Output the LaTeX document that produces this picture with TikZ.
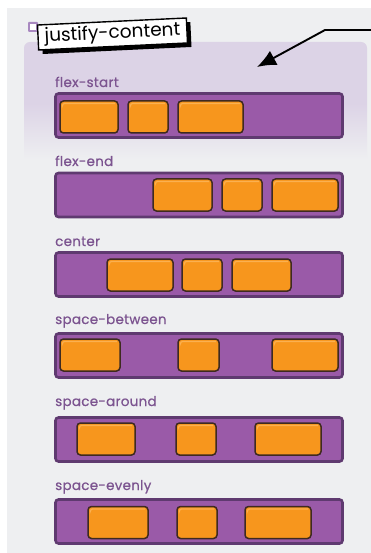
\documentclass[tikz,border=0pt]{standalone}
\usepackage{fontspec}
\setmainfont{Poppins}
\newfontfamily\labfont[LetterSpace=2,FakeBold=0.6]{Poppins}
\newfontfamily\titfont{Poppins}
\usetikzlibrary{arrows.meta}
\definecolor{bggray}{HTML}{EEEFF1}
\definecolor{lav}{HTML}{DCD3E6}
\definecolor{barpurple}{HTML}{9A5AA8}
\definecolor{bardark}{HTML}{5F3A70}
\definecolor{boxorange}{HTML}{F7961D}
\definecolor{boxlight}{HTML}{FBB050}
\definecolor{boxdark}{HTML}{3E2A20}
\definecolor{labpurple}{HTML}{7C5490}
\definecolor{sqpurple}{HTML}{A888C0}
\pgfdeclareverticalshading{panelshade}{100bp}{color(0bp)=(bggray); color(63.5bp)=(bggray); color(69bp)=(lav); color(100bp)=(lav)}
\tikzset{
  barbox/.style={fill=barpurple, draw=bardark, line width=2.6pt, rounded corners=3pt, inner sep=0pt, minimum height=44pt},
  obox/.style={fill=boxorange, draw=boxdark, line width=1.5pt, rounded corners=3.5pt, inner sep=0pt, minimum height=32pt,
    path picture={\draw[boxlight, line width=1.2pt, rounded corners=2pt]
      ([xshift=2.5pt,yshift=-4pt]path picture bounding box.north west) -- ([xshift=2.5pt,yshift=-2.5pt]path picture bounding box.north west) -- ([xshift=-3pt,yshift=-2.5pt]path picture bounding box.north east);}},
  rowlabel/.style={anchor=base west, inner sep=0pt, text=labpurple, font=\labfont\fontsize{13.5}{15}\selectfont},
  pointer/.style={line width=1.9pt, -{Latex[length=19pt,width=16pt]}}
}
\begin{document}
\begin{tikzpicture}[x=1pt,y=-1pt]
\useasboundingbox (0,0) rectangle (371,553);
\fill[white] (0,0) rectangle (371,553);
\fill[bggray] (7,8) rectangle (371,553);
\shade[shading=panelshade, rounded corners=6pt] (24,42) rectangle (367,553);

% title tag
\node[fill=sqpurple, minimum size=10pt, inner sep=0pt, rounded corners=1pt] (sqo) at (33,27) {};
\node[fill=white, minimum size=6.5pt, inner sep=0pt] (sqi) at (33,27) {};
\node[rotate=2.7, fill=black, minimum width=149pt, minimum height=25pt, inner sep=0pt] (tagshadow) at (116.5,38) {};
\node[rotate=2.7, fill=white, draw=black, line width=1.4pt, minimum width=149pt, minimum height=25pt, inner sep=0pt,
  font=\titfont\fontsize{18.5}{20}\selectfont] (tag) at (112.5,34) {justify-content};

% arrow
\coordinate (arrstart) at (371,30);
\coordinate (arrbend) at (325,30);
\coordinate (arrtip) at (257,67);
\draw[pointer] (arrstart) -- (arrbend) -- (arrtip);

% row 1 flex-start
\node[rowlabel] (l1) at (55,87) {flex-start};
\node[barbox, minimum width=287pt] (bar1) at (199,115.5) {};
\node[obox, minimum width=58pt] (r1a) at (89,117) {};
\node[obox, minimum width=40pt] (r1b) at (148,117) {};
\node[obox, minimum width=65pt] (r1c) at (210.5,117) {};

% row 2 flex-end
\node[rowlabel] (l2) at (55,166) {flex-end};
\node[barbox, minimum width=287pt] (bar2) at (199,195) {};
\node[obox, minimum width=59pt] (r2a) at (182.5,195) {};
\node[obox, minimum width=40pt] (r2b) at (242,195) {};
\node[obox, minimum width=66pt] (r2c) at (305,195) {};

% row 3 center
\node[rowlabel] (l3) at (55,246) {center};
\node[barbox, minimum width=287pt] (bar3) at (199,274.5) {};
\node[obox, minimum width=66pt] (r3a) at (140,275) {};
\node[obox, minimum width=40pt] (r3b) at (202,275) {};
\node[obox, minimum width=59pt] (r3c) at (261.5,275) {};

% row 4 space-between
\node[rowlabel] (l4) at (55,324) {space-between};
\node[barbox, minimum width=287pt] (bar4) at (199,355.5) {};
\node[obox, minimum width=60pt] (r4a) at (90,355) {};
\node[obox, minimum width=41pt] (r4b) at (198.5,355) {};
\node[obox, minimum width=66pt] (r4c) at (305,355) {};

% row 5 space-around
\node[rowlabel] (l5) at (55,406) {space-around};
\node[barbox, minimum width=287pt] (bar5) at (199,439.5) {};
\node[obox, minimum width=58pt] (r5a) at (106,439) {};
\node[obox, minimum width=40pt] (r5b) at (196,439) {};
\node[obox, minimum width=66pt] (r5c) at (288,439) {};

% row 6 space-evenly
\node[rowlabel] (l6) at (55,490) {space-evenly};
\node[barbox, minimum width=287pt] (bar6) at (199,521.5) {};
\node[obox, minimum width=60pt] (r6a) at (118,522.5) {};
\node[obox, minimum width=40pt] (r6b) at (197,522.5) {};
\node[obox, minimum width=66pt] (r6c) at (278,522.5) {};
\end{tikzpicture}
\end{document}
